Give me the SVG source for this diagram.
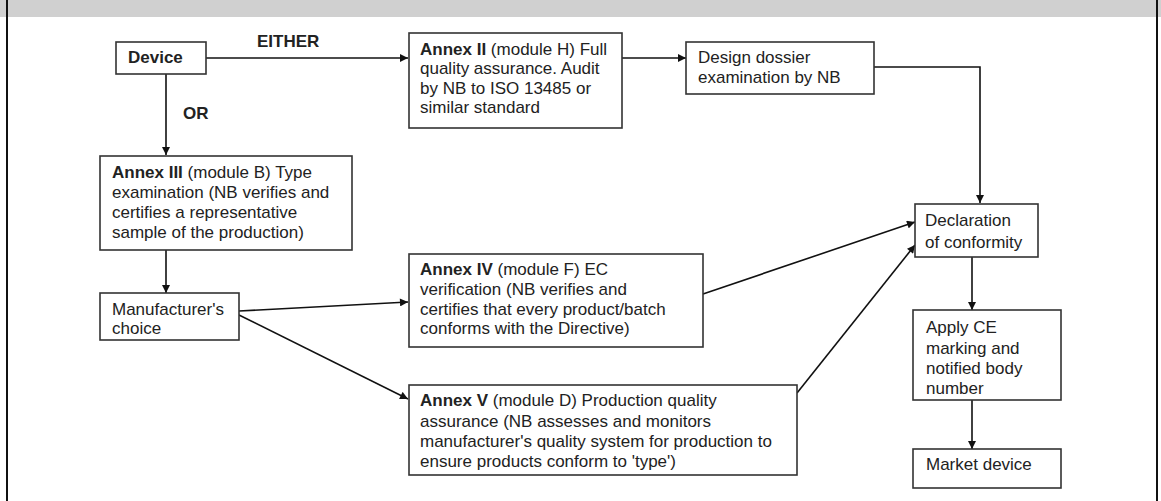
<svg xmlns="http://www.w3.org/2000/svg" width="1161" height="501" viewBox="0 0 1161 501">
<style>
.box{fill:#fff;stroke:#333;stroke-width:1.6}
.t{font-family:"Liberation Sans",Arial,sans-serif;font-size:17px;fill:#222}
.b{font-weight:bold}
.c{fill:none;stroke:#111;stroke-width:1.6}
</style>
<defs>
<marker id="ah" viewBox="0 0 10 10" refX="10" refY="5" markerWidth="9" markerHeight="8" markerUnits="userSpaceOnUse" orient="auto">
<path d="M0,0 L10,5 L0,10 z" fill="#111"/>
</marker>
</defs>
<g id="frame">
<rect x="0" y="0" width="1161" height="17" fill="#d0d0d0"/>
<line x1="7" y1="0" x2="7" y2="501" stroke="#111" stroke-width="2"/>
<line x1="1157" y1="0" x2="1157" y2="501" stroke="#111" stroke-width="2"/>
</g>
<g id="connectors">
<line class="c" x1="206" y1="58" x2="408" y2="58" marker-end="url(#ah)"/>
<line class="c" x1="166" y1="74" x2="166" y2="155" marker-end="url(#ah)"/>
<line class="c" x1="622" y1="58" x2="686" y2="58" marker-end="url(#ah)"/>
<polyline class="c" points="874,67 980,67 980,203" marker-end="url(#ah)"/>
<line class="c" x1="166" y1="250" x2="166" y2="293" marker-end="url(#ah)"/>
<line class="c" x1="239" y1="311" x2="408" y2="302" marker-end="url(#ah)"/>
<line class="c" x1="239" y1="315" x2="408" y2="399" marker-end="url(#ah)"/>
<line class="c" x1="703" y1="294" x2="915" y2="222" marker-end="url(#ah)"/>
<line class="c" x1="797" y1="393" x2="915" y2="245" marker-end="url(#ah)"/>
<line class="c" x1="972" y1="257" x2="972" y2="310" marker-end="url(#ah)"/>
<line class="c" x1="972" y1="400" x2="972" y2="449" marker-end="url(#ah)"/>
</g>
<g id="labels">
<text class="t b" x="257" y="47">EITHER</text>
<text class="t b" x="183" y="119">OR</text>
</g>
<g id="device">
<rect class="box" x="116" y="42" width="90" height="32"/>
<text class="t b" x="128" y="63">Device</text>
</g>
<g id="annex2">
<rect class="box" x="409" y="33" width="213" height="95"/>
<text class="t" x="420" y="55"><tspan class="b">Annex II</tspan> (module H) Full</text>
<text class="t" x="420" y="74">quality assurance. Audit</text>
<text class="t" x="420" y="94">by NB to ISO 13485 or</text>
<text class="t" x="420" y="113">similar standard</text>
</g>
<g id="design">
<rect class="box" x="686" y="42" width="188" height="52"/>
<text class="t" x="698" y="63">Design dossier</text>
<text class="t" x="698" y="83">examination by NB</text>
</g>
<g id="annex3">
<rect class="box" x="100" y="156" width="252" height="94"/>
<text class="t" x="112" y="178"><tspan class="b">Annex III</tspan> (module B) Type</text>
<text class="t" x="112" y="198">examination (NB verifies and</text>
<text class="t" x="112" y="218">certifies a representative</text>
<text class="t" x="112" y="238">sample of the production)</text>
</g>
<g id="manufacturer">
<rect class="box" x="100" y="293" width="139" height="47"/>
<text class="t" x="112" y="315">Manufacturer's</text>
<text class="t" x="112" y="334">choice</text>
</g>
<g id="annex4">
<rect class="box" x="409" y="254" width="294" height="93"/>
<text class="t" x="420" y="275"><tspan class="b">Annex IV</tspan> (module F) EC</text>
<text class="t" x="420" y="295">verification (NB verifies and</text>
<text class="t" x="420" y="315">certifies that every product/batch</text>
<text class="t" x="420" y="334">conforms with the Directive)</text>
</g>
<g id="annex5">
<rect class="box" x="409" y="385" width="388" height="90"/>
<text class="t" x="420" y="406"><tspan class="b">Annex V</tspan> (module D) Production quality</text>
<text class="t" x="420" y="427">assurance (NB assesses and monitors</text>
<text class="t" x="420" y="447">manufacturer's quality system for production to</text>
<text class="t" x="420" y="467">ensure products conform to 'type')</text>
</g>
<g id="declaration">
<rect class="box" x="915" y="204" width="123" height="53"/>
<text class="t" x="925" y="226">Declaration</text>
<text class="t" x="925" y="248">of conformity</text>
</g>
<g id="apply">
<rect class="box" x="913" y="310" width="148" height="90"/>
<text class="t" x="926" y="333">Apply CE</text>
<text class="t" x="926" y="354">marking and</text>
<text class="t" x="926" y="374">notified body</text>
<text class="t" x="926" y="394">number</text>
</g>
<g id="market">
<rect class="box" x="913" y="449" width="148" height="39"/>
<text class="t" x="926" y="470">Market device</text>
</g>
</svg>
